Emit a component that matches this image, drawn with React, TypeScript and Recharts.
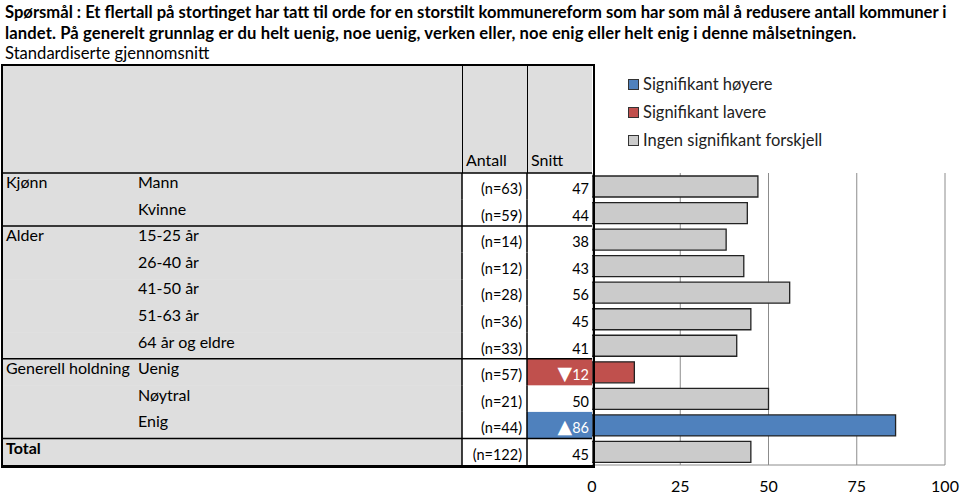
import { Bar, BarChart, CartesianGrid, Cell, XAxis, YAxis } from "recharts";

const groups = ["Kjønn", "", "Alder", "", "", "", "", "Generell holdning", "", "", "Total"];
const labels = ["Mann", "Kvinne", "15-25 år", "26-40 år", "41-50 år", "51-63 år", "64 år og eldre", "Uenig", "Nøytral", "Enig", ""];
const counts = [63, 59, 14, 12, 28, 36, 33, 57, 21, 44, 122];
const means = [47, 44, 38, 43, 56, 45, 41, 12, 50, 86, 45];
const signif = ["none", "none", "none", "none", "none", "none", "none", "lower", "none", "higher", "none"];
const xTicks = [0, 25, 50, 75, 100];
const legendItems = [
  { key: "higher", label: "Signifikant høyere" },
  { key: "lower", label: "Signifikant lavere" },
  { key: "none", label: "Ingen signifikant forskjell" },
];

const FONT = "Lato, 'Open Sans', sans-serif";
const BLUE = "#4f81bd";
const RED = "#c0504d";
const GREY_BAR = "#cbcbcb";
const GREY_BG = "#dedede";
const fillFor = (s: string) => (s === "higher" ? BLUE : s === "lower" ? RED : GREY_BAR);

const PLOT_TOP = 173;
const PLOT_BOTTOM = 465;

const rows = labels.map((label, i) => ({
  id: i,
  group: groups[i],
  label,
  n: counts[i],
  mean: means[i],
  sig: signif[i],
}));

const band = (PLOT_BOTTOM - PLOT_TOP) / rows.length;

function RowTick(props: any) {
  const { y, payload } = props;
  const r = rows[Number(payload.value)];
  if (!r) return null;
  const top = y - band / 2;
  const snittFill = r.sig === "higher" ? BLUE : r.sig === "lower" ? RED : "#fff";
  const snittColor = r.sig === "none" ? "#000" : "#fff";
  const arrow = r.sig === "higher" ? "▲" : r.sig === "lower" ? "▼" : "";
  const isTotal = r.group === "Total";
  return (
    <g fontFamily={FONT}>
      <rect x={2} y={top} width={460} height={band + 0.5} fill={GREY_BG} />
      <rect x={462} y={top} width={65} height={band + 0.5} fill="#fff" />
      <rect x={527} y={top} width={65} height={band + 0.5} fill={snittFill} />
      <line x1={462} x2={462} y1={top} y2={top + band + 0.5} stroke="#000" strokeWidth={1.5} />
      <line x1={527} x2={527} y1={top} y2={top + band + 0.5} stroke="#000" strokeWidth={1.5} />
      {r.group && <line x1={2} x2={592} y1={top} y2={top} stroke="#000" strokeWidth={1.5} />}
      {r.group && (
        <text x={6} y={y + 2} fontSize={16} fontWeight={isTotal ? 700 : 400} fill="#000">
          {r.group}
        </text>
      )}
      {r.label && (
        <text x={138} y={y + 2} fontSize={16} fill="#000">
          {r.label}
        </text>
      )}
      <text x={522} y={y + 8} fontSize={14.5} textAnchor="end" fill="#000">
        (n={r.n})
      </text>
      <text x={589} y={y + 8} fontSize={14.5} textAnchor="end" fill={snittColor}>
        {arrow && <tspan fontSize={19} fontFamily="'DejaVu Sans', sans-serif">{arrow}</tspan>}
        <tspan>{r.mean}</tspan>
      </text>
    </g>
  );
}

function LegendBox() {
  return (
    <div style={{ position: "absolute", left: 628, top: 70, fontFamily: FONT, fontSize: 16.5, color: "#222" }}>
      {legendItems.map((it) => (
        <div key={it.key} style={{ display: "flex", alignItems: "center", height: 28 }}>
          <span
            style={{
              width: 9,
              height: 9,
              background: fillFor(it.key),
              border: "1.5px solid #333",
              marginRight: 4,
            }}
          />
          {it.label}
        </div>
      ))}
    </div>
  );
}

export default function App() {
  return (
    <div style={{ position: "absolute", left: 0, top: 0, width: 960, height: 495, background: "#fff", overflow: "hidden" }}>
      <div style={{ position: "absolute", left: 5, top: 2, fontFamily: FONT, fontSize: 16.6, lineHeight: "20.5px", color: "#000", whiteSpace: "nowrap" }}>
        <div style={{ fontWeight: 700 }}>
          Spørsmål : Et flertall på stortinget har tatt til orde for en storstilt kommunereform som har som mål å redusere antall kommuner i
        </div>
        <div style={{ fontWeight: 700, letterSpacing: 0.12 }}>
          landet. På generelt grunnlag er du helt uenig, noe uenig, verken eller, noe enig eller helt enig i denne målsetningen.
        </div>
        <div>Standardiserte gjennomsnitt</div>
      </div>

      {/* table header */}
      <div style={{ position: "absolute", left: 2, top: 65, width: 590, height: 108, background: GREY_BG, fontFamily: FONT, fontSize: 16 }}>
        <div style={{ position: "absolute", left: 460, top: 0, width: 0, height: 108, borderLeft: "1.5px solid #000" }} />
        <div style={{ position: "absolute", left: 525, top: 0, width: 0, height: 108, borderLeft: "1.5px solid #000" }} />
        <div style={{ position: "absolute", left: 464, top: 85 }}>Antall</div>
        <div style={{ position: "absolute", left: 529, top: 85 }}>Snitt</div>
      </div>

      <div style={{ position: "absolute", left: 0, top: 0 }}>
        <BarChart
          width={960}
          height={495}
          data={rows}
          layout="vertical"
          margin={{ top: PLOT_TOP, right: 15, left: 0, bottom: 0 }}
          barSize={21}
        >
          <CartesianGrid horizontal={false} stroke="#8c8c8c" />
          <XAxis
            type="number"
            domain={[0, 100]}
            ticks={xTicks}
            height={30}
            axisLine={{ stroke: "#8c8c8c" }}
            tickLine={false}
            tickSize={0}
            tickMargin={16}
            tick={{ fill: "#000", fontSize: 16, fontFamily: FONT }}
          />
          <YAxis
            type="category"
            dataKey="id"
            width={592}
            interval={0}
            axisLine={false}
            tickLine={false}
            tick={<RowTick />}
          />
          <Bar dataKey="mean" stroke="#222" strokeWidth={1.3} isAnimationActive={false}>
            {rows.map((r) => (
              <Cell key={r.id} fill={fillFor(r.sig)} />
            ))}
          </Bar>
        </BarChart>
      </div>

      <LegendBox />

      {/* table outline */}
      <div style={{ position: "absolute", left: 1, top: 64, width: 590, height: 399, border: "2px solid #000", pointerEvents: "none" }} />
      <div style={{ position: "absolute", left: 1, top: 467, width: 594, height: 0, borderTop: "1.5px solid #000", pointerEvents: "none" }} />
    </div>
  );
}
